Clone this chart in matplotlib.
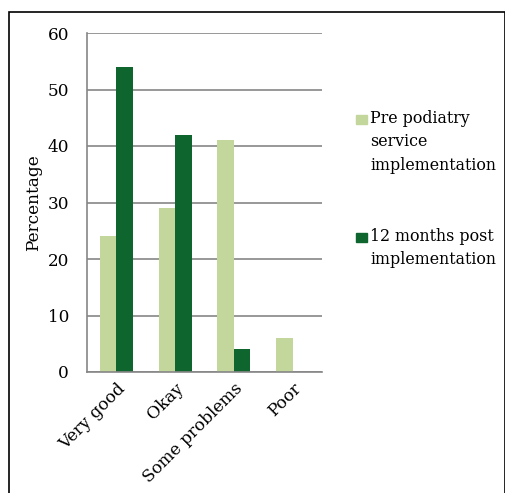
import matplotlib.pyplot as plt
import matplotlib.patches as mpatches
import numpy as np

categories = ["Very good", "Okay", "Some problems", "Poor"]
pre_values = [24, 29, 41, 6]
post_values = [54, 42, 4, 0]
series_names = ["Pre podiatry\nservice\nimplementation", "12 months post\nimplementation"]
y_ticks = [0, 10, 20, 30, 40, 50, 60]

light = "#c3d69b"
dark = "#0f652e"
grid_col = "#868686"
fs = 12.2

plt.rcParams["font.family"] = ["DejaVu Serif"]

fig = plt.figure(figsize=(5.06, 4.93), dpi=100)
W, H = 506, 493
# outer chart frame
fig.patches.append(mpatches.Rectangle((9 / W, -0.01), 496 / W, 1 - 12 / H + 0.01,
                                      transform=fig.transFigure, fill=False,
                                      edgecolor="black", linewidth=1.2))

ax = fig.add_axes([87 / W, 1 - 372 / H, 235 / W, 339 / H])
x = np.arange(len(categories))
w = 0.28
ax.bar(x - w / 2, pre_values, w, color=light)
ax.bar(x + w / 2, post_values, w, color=dark)

ax.set_xlim(-0.5, len(categories) - 0.5)
ax.set_ylim(0, 60)
ax.set_yticks(y_ticks)
ax.yaxis.grid(True, color=grid_col, linewidth=1.2)
ax.set_axisbelow(True)
for s in ["top", "right"]:
    ax.spines[s].set_visible(False)
for s in ["left", "bottom"]:
    ax.spines[s].set_color(grid_col)
    ax.spines[s].set_linewidth(1.2)
ax.tick_params(axis="y", length=0, labelsize=fs, pad=13)
ax.tick_params(axis="x", length=0, labelsize=fs, pad=6)
ax.set_xticks(x)
ax.set_xticklabels(categories, rotation=45, ha="right", rotation_mode="anchor")
ax.set_ylabel("Percentage", fontsize=fs, labelpad=4)

# legend: swatch aligned with first line of each label
legend_tops = [115, 233]
for name, col, top in zip(series_names, [light, dark], legend_tops):
    fig.patches.append(mpatches.Rectangle((356 / W, 1 - (top + 9) / H), 11 / W, 9 / H,
                                          transform=fig.transFigure, color=col))
    fig.text(370 / W, 1 - (top - 5) / H, name, fontsize=11.4, va="top", ha="left",
             linespacing=1.5)

fig.savefig("out.png", dpi=100)
